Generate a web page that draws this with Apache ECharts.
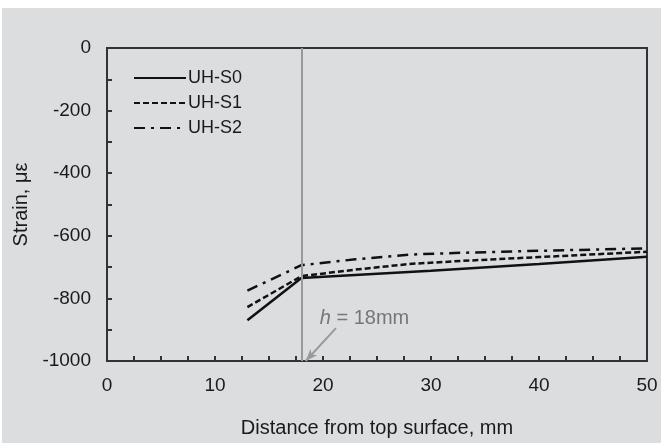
<!DOCTYPE html>
<html>
<head>
<meta charset="utf-8">
<script src="https://cdn.jsdelivr.net/npm/echarts@6/dist/echarts.min.js"></script>
<style>
  body { margin: 0; background: #fff; }
  #chart { width: 663px; height: 443px; }
</style>
</head>
<body>
<div id="chart"></div>
<script>
// distance from top surface (mm) and strain (με)
const s0X = [13, 18, 30, 40, 50];
const s0Y = [-870, -735, -712, -690, -667];
const s1X = [13, 18, 23, 28, 33, 40, 50];
const s1Y = [-828, -729, -708, -690, -680, -668, -651];
const s2X = [13, 18, 23, 28, 33, 40, 50];
const s2Y = [-775, -694, -675, -660, -654, -648, -640];
const seriesNames = ['UH-S0', 'UH-S1', 'UH-S2'];
const hLine = 18;

function pairs(xs, ys) {
    return xs.map(function (x, i) { return [x, ys[i]]; });
}

const chart = echarts.init(document.getElementById('chart'));

const font = 'Liberation Sans, Arial, sans-serif';
const tickStyle = { color: '#333', width: 2 };

const option = {
    backgroundColor: '#fff',
    animation: false,
    graphic: [{
        type: 'rect',
        z: -10,
        shape: { x: 2, y: 8, width: 659, height: 435 },
        style: { fill: '#dcdddf' }
    }],
    grid: {
        left: 107, right: 16, top: 48, bottom: 80,
        show: true,
        borderColor: '#333',
        borderWidth: 2,
        backgroundColor: 'transparent'
    },
    legend: {
        orient: 'vertical',
        left: 133,
        top: 69,
        padding: 0,
        itemWidth: 52,
        itemHeight: 18,
        itemGap: 7,
        itemStyle: { opacity: 0 },
        textStyle: { fontFamily: font, fontSize: 18, color: '#1a1a1a', padding: [0, 0, 0, -3] },
        data: seriesNames
    },
    xAxis: {
        type: 'value',
        min: 0, max: 50, interval: 10,
        name: 'Distance from top surface, mm',
        nameLocation: 'middle',
        nameGap: 57,
        nameTextStyle: { fontFamily: font, fontSize: 20, color: '#1a1a1a' },
        axisLine: { onZero: false, lineStyle: { color: '#333', width: 2 } },
        axisTick: { inside: true, length: 5, lineStyle: tickStyle },
        minorTick: { show: true, splitNumber: 4, length: 5, lineStyle: tickStyle },
        axisLabel: { fontFamily: font, fontSize: 19, color: '#1a1a1a', margin: 15 },
        splitLine: { show: false }
    },
    yAxis: {
        type: 'value',
        min: -1000, max: 0, interval: 200,
        name: 'Strain, με',
        nameLocation: 'middle',
        nameGap: 73,
        nameTextStyle: { fontFamily: font, fontSize: 20, color: '#1a1a1a' },
        axisLine: { onZero: false, lineStyle: { color: '#333', width: 2 } },
        axisTick: { inside: true, length: 5, lineStyle: tickStyle },
        minorTick: { show: true, splitNumber: 2, length: 5, lineStyle: tickStyle },
        axisLabel: {
            fontFamily: font, fontSize: 19, color: '#1a1a1a', margin: 16,
            formatter: function (v) { return String(v); }
        },
        splitLine: { show: false }
    },
    series: [
        {
            name: seriesNames[0],
            type: 'line',
            symbol: 'none',
            color: '#111',
            lineStyle: { color: '#111', width: 2.5, type: 'solid' },
            data: pairs(s0X, s0Y),
            markLine: {
                silent: true,
                symbol: 'none',
                label: { show: false },
                lineStyle: { color: '#999', width: 2, type: 'solid' },
                data: [
                    { xAxis: hLine },
                    [
                        { coord: [21.2, -895], symbol: 'none' },
                        { coord: [18.4, -1000], symbol: 'arrow', symbolSize: [7, 12] }
                    ]
                ]
            },
            markPoint: {
                silent: true,
                symbol: 'circle',
                symbolSize: 0,
                label: {
                    show: true,
                    position: 'right',
                    distance: 0,
                    formatter: '{i|h} = 18mm',
                    fontFamily: font,
                    fontSize: 20,
                    color: '#777',
                    rich: { i: { fontStyle: 'italic', fontFamily: font, fontSize: 20, color: '#777' } }
                },
                data: [{ coord: [19.7, -865] }]
            }
        },
        {
            name: seriesNames[1],
            type: 'line',
            symbol: 'none',
            color: '#111',
            lineStyle: { color: '#111', width: 2.5, type: [6, 3] },
            data: pairs(s1X, s1Y)
        },
        {
            name: seriesNames[2],
            type: 'line',
            symbol: 'none',
            color: '#111',
            lineStyle: { color: '#111', width: 2.5, type: [11, 6, 3, 6] },
            data: pairs(s2X, s2Y)
        }
    ]
};

chart.setOption(option);
</script>
</body>
</html>
